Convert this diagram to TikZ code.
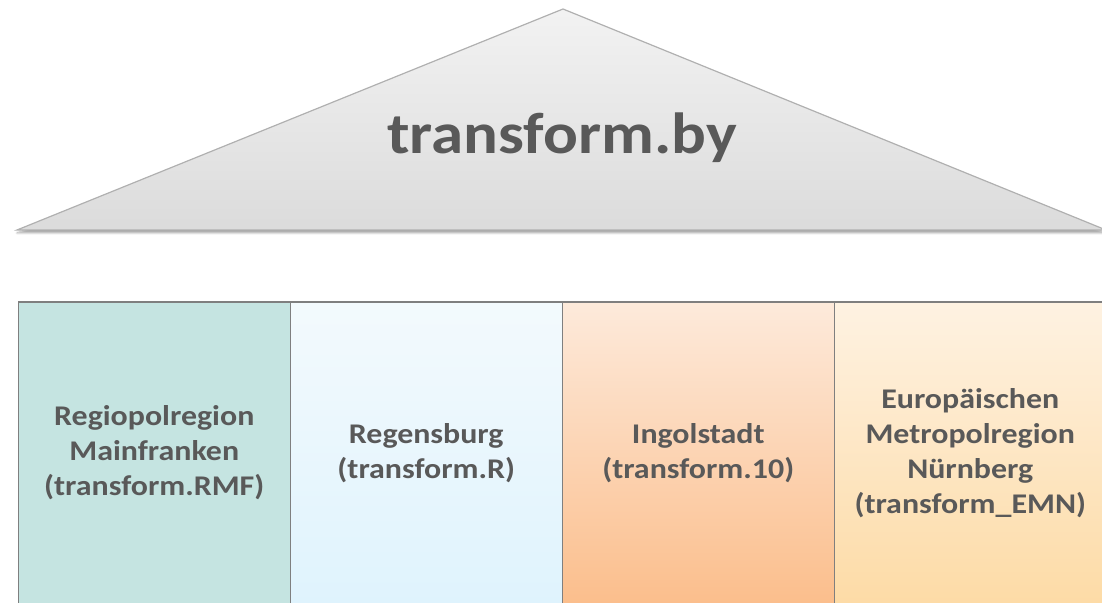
\documentclass[tikz,border=0pt]{standalone}
\usepackage{fontspec}
\setmainfont[FakeStretch=1.12]{Carlito}
\usetikzlibrary{shadows.blur}
\definecolor{txtgray}{HTML}{595959}
\definecolor{linegray}{HTML}{7F7F7F}
\definecolor{roofline}{HTML}{B0B0B0}
\definecolor{rmfgreen}{HTML}{C5E4E1}
\definecolor{rtop}{HTML}{F3FAFD}
\definecolor{rbot}{HTML}{DFF3FD}
\definecolor{intop}{HTML}{FDEADB}
\definecolor{inbot}{HTML}{FBBE8C}
\definecolor{emntop}{HTML}{FEF2E2}
\definecolor{emnbot}{HTML}{FDDBA6}
\tikzset{
  roof/.style={draw=roofline, line width=1.2pt, top color=black!5, bottom color=black!14,
    blur shadow={shadow xshift=0pt, shadow yshift=-3pt, shadow blur steps=6, shadow opacity=35}},
  region/.style={draw=linegray, line width=1.2pt, minimum width=272pt, minimum height=302pt,
    inner sep=0pt, outer sep=0pt, align=center, text=txtgray,
    font=\fontsize{28.5}{35}\selectfont\bfseries},
}
\begin{document}
\begin{tikzpicture}[x=1pt, y=1pt]
\useasboundingbox (0,0) rectangle (1102,602);
\clip (0,0) rectangle (1102,602);
% roof
\coordinate (apex) at (563,593);
\coordinate (baseL) at (17,372);
\coordinate (baseR) at (1106,372);
\draw[roof] (baseL) -- (apex) -- (baseR) -- cycle;
\node[text=txtgray, font=\fontsize{58}{70}\selectfont\bfseries] (title) at (562,464) {transform.by};
% pillars
\node[region, fill=rmfgreen] (P_rmf) at (154.25,149) {Regiopolregion\\Mainfranken\\(transform.RMF)};
\node[region, top color=rtop, bottom color=rbot] (P_r) at (426.25,149) {Regensburg\\(transform.R)};
\node[region, top color=intop, bottom color=inbot] (P_10) at (698.25,149) {Ingolstadt\\(transform.10)};
\node[region, top color=emntop, bottom color=emnbot] (P_emn) at (970.25,149) {Europäischen\\Metropolregion\\Nürnberg\\(transform\_EMN)};
\end{tikzpicture}
\end{document}
